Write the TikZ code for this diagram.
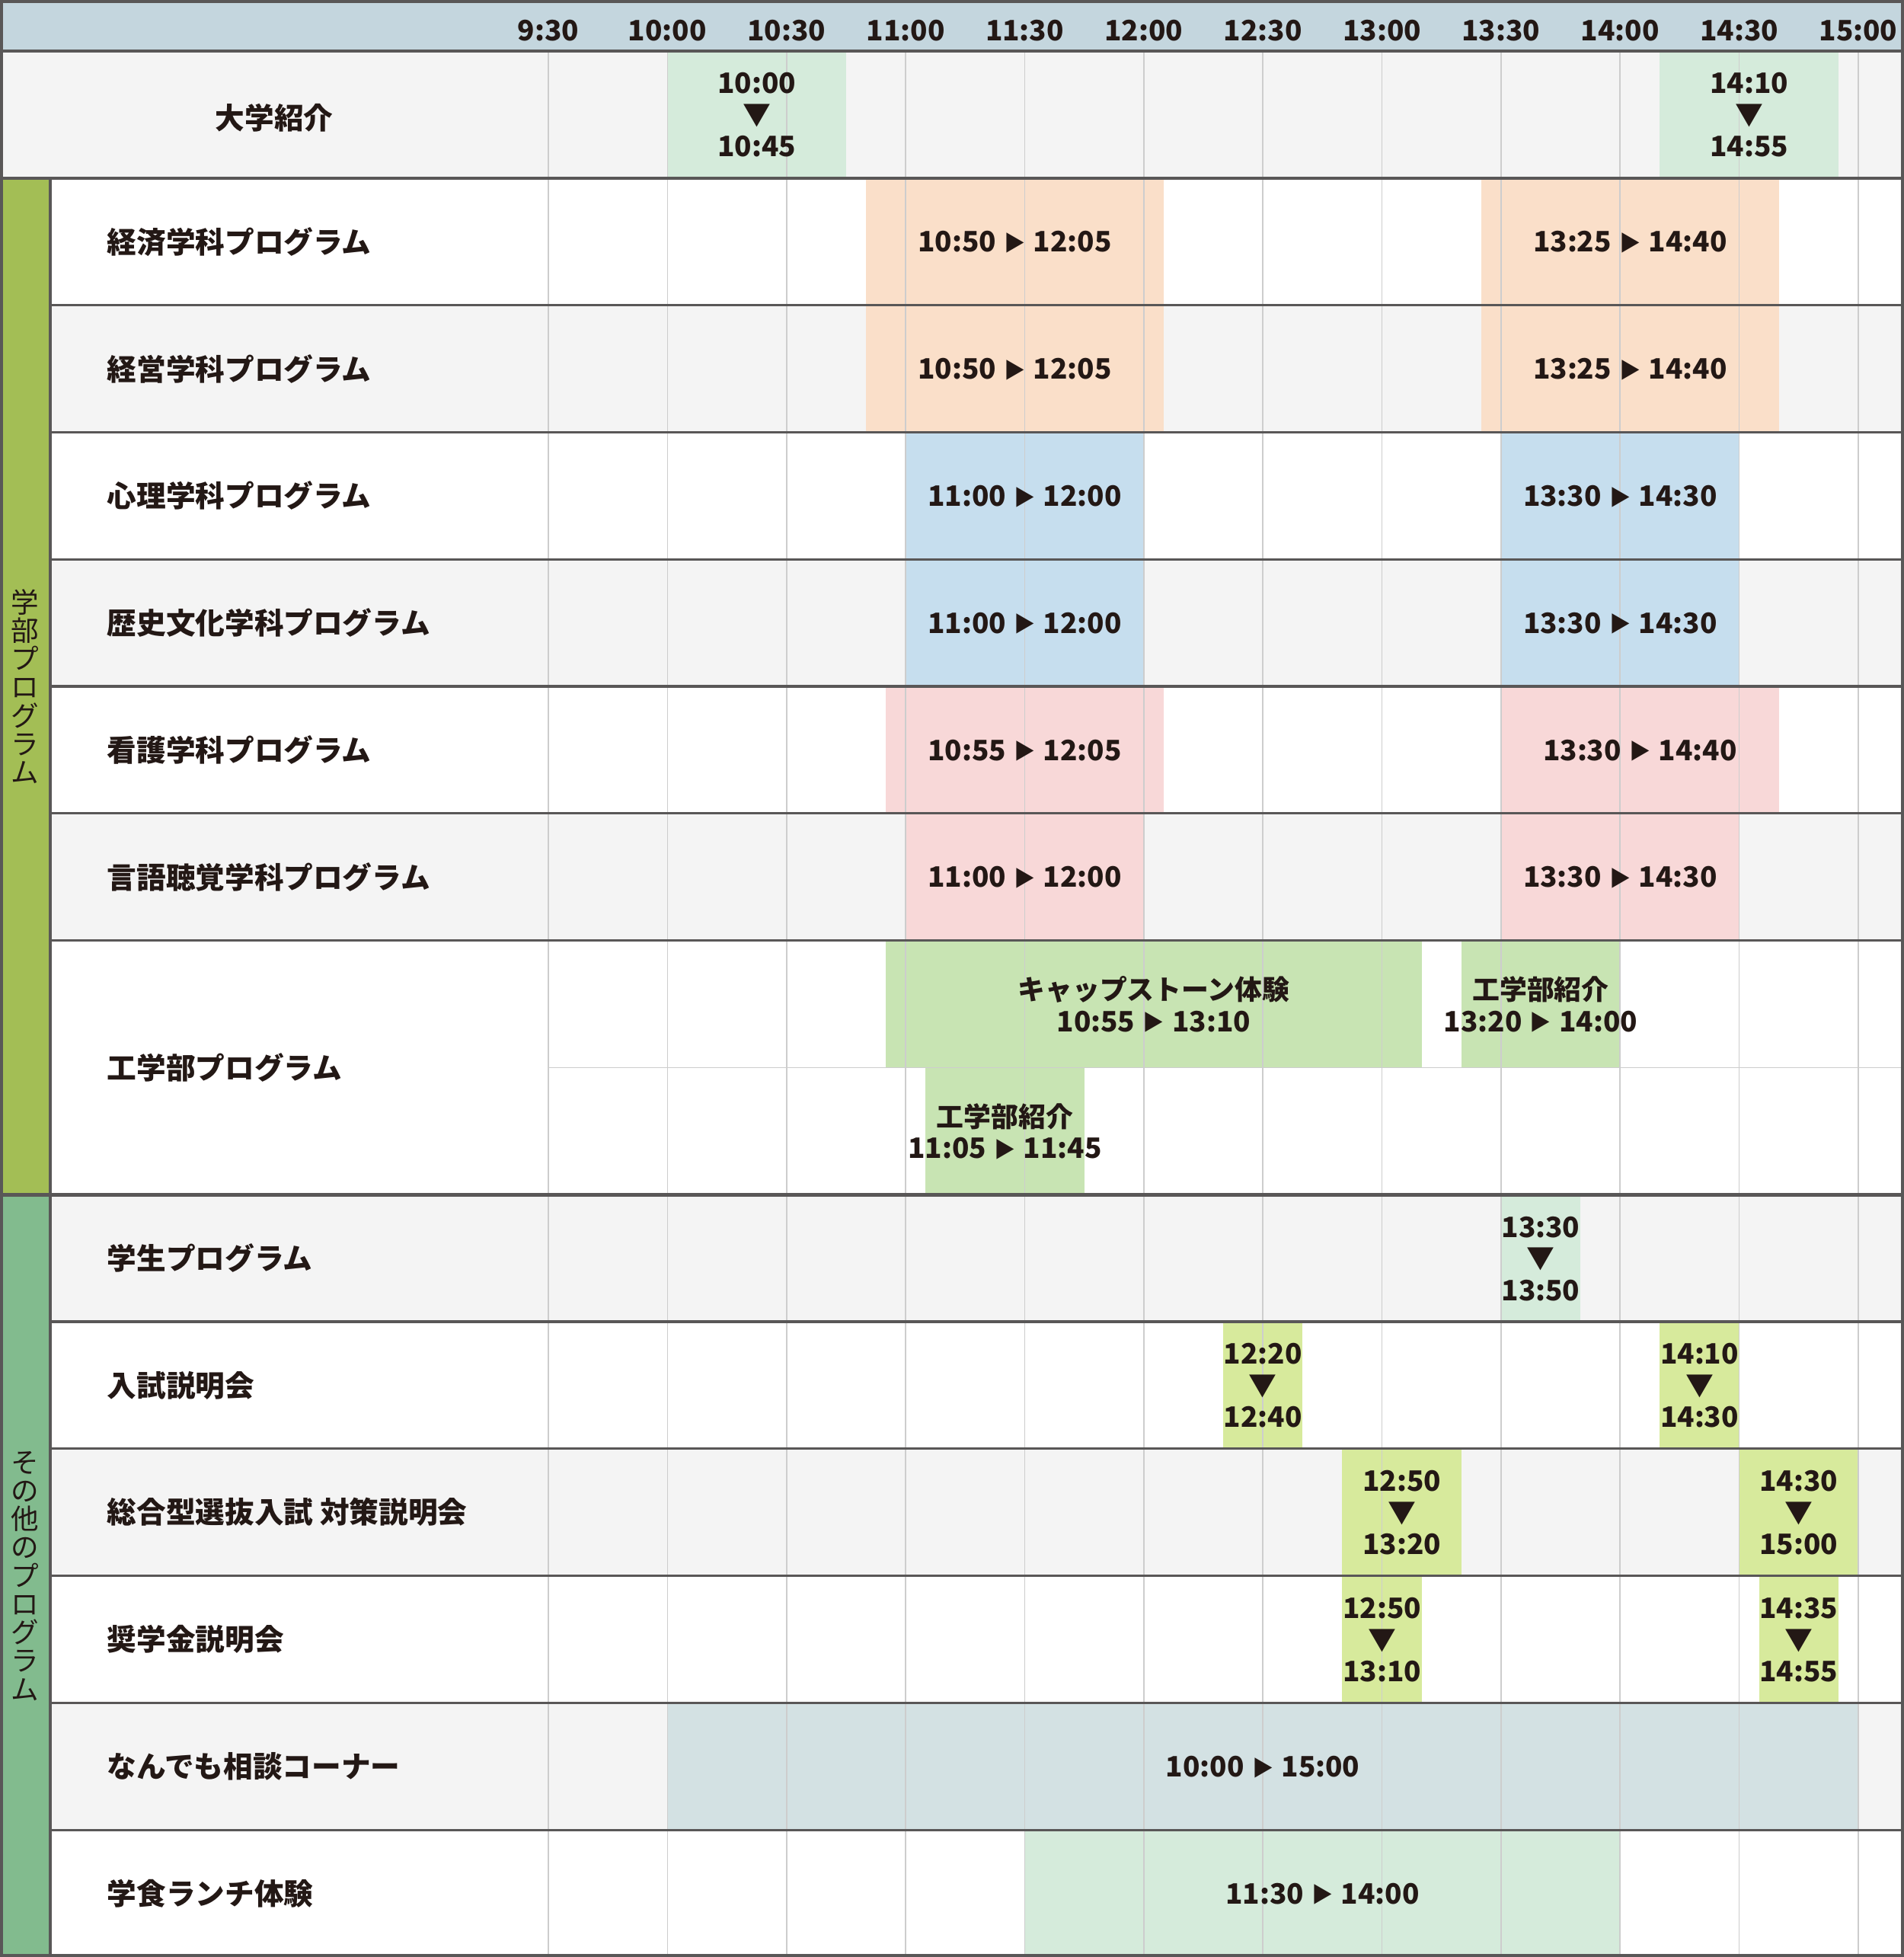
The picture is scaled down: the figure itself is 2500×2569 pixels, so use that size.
\documentclass[tikz,border=0pt]{standalone}
\usepackage{fontspec}
\setmainfont{Noto Sans CJK JP}

\definecolor{ink}{HTML}{231815}
\definecolor{frame}{HTML}{595757}
\definecolor{gridc}{HTML}{CDCDCD}
\definecolor{headbg}{HTML}{C4D6DE}
\definecolor{rowbg}{HTML}{F4F4F4}
\definecolor{sidea}{HTML}{A3BE55}
\definecolor{sideb}{HTML}{82BB8E}
\definecolor{mint}{HTML}{D5EBDB}
\definecolor{peach}{HTML}{FADFC9}
\definecolor{sky}{HTML}{C6DEEE}
\definecolor{rose}{HTML}{F8D8D8}
\definecolor{leaf}{HTML}{C8E4B3}
\definecolor{lime}{HTML}{D7EA9C}
\definecolor{haze}{HTML}{D3E1E3}

% time (h, min) -> x, row index -> y
\newcommand\tm[2]{(720+((#1)*60+(#2)-570)*5.212)}
\newcommand\ry[1]{(67+(#1)*166.8)}
\newcommand\ra{\kern0.28em\raisebox{0.4pt}{\fontsize{8}{8}\selectfont ▶}\kern0.28em}
\newcommand\da{▼}
\newcommand\two[2]{{\fontsize{10.2}{13.2}\selectfont #1}\\#2}

% row/start h/start min/end h/end min/colour/text
\newcommand\slots{0/10/0/10/45/mint/{10:00\\\da\\10:45},
  0/14/10/14/55/mint/{14:10\\\da\\14:55},
  1/10/50/12/5/peach/{10:50\ra 12:05}, 1/13/25/14/40/peach/{13:25\ra 14:40},
  2/10/50/12/5/peach/{10:50\ra 12:05}, 2/13/25/14/40/peach/{13:25\ra 14:40},
  3/11/0/12/0/sky/{11:00\ra 12:00}, 3/13/30/14/30/sky/{13:30\ra 14:30},
  4/11/0/12/0/sky/{11:00\ra 12:00}, 4/13/30/14/30/sky/{13:30\ra 14:30},
  5/10/55/12/5/rose/{10:55\ra 12:05}, 5/13/30/14/40/rose/{13:30\ra 14:40},
  6/11/0/12/0/rose/{11:00\ra 12:00}, 6/13/30/14/30/rose/{13:30\ra 14:30},
  7/10/55/13/10/leaf/{\two{キャップストーン体験}{10:55\ra 13:10}},
  7/13/20/14/0/leaf/{\two{工学部紹介}{13:20\ra 14:00}},
  8/11/5/11/45/leaf/{\two{工学部紹介}{11:05\ra 11:45}},
  9/13/30/13/50/mint/{13:30\\\da\\13:50},
  10/12/20/12/40/lime/{12:20\\\da\\12:40}, 10/14/10/14/30/lime/{14:10\\\da\\14:30},
  11/12/50/13/20/lime/{12:50\\\da\\13:20}, 11/14/30/15/0/lime/{14:30\\\da\\15:00},
  12/12/50/13/10/lime/{12:50\\\da\\13:10}, 12/14/35/14/55/lime/{14:35\\\da\\14:55},
  13/10/0/15/0/haze/{10:00\ra 15:00},
  14/11/30/14/0/mint/{11:30\ra 14:00}}

\begin{document}
\begin{tikzpicture}[x=0.1mm, y=-0.1mm,
  hd/.style = {anchor=base, inner sep=0, text=ink, font=\bfseries\fontsize{10.5}{12}\selectfont},
  lbl/.style = {anchor=west, inner sep=0, text=ink, font=\bfseries\fontsize{11}{13}\selectfont},
  blk/.style = {inner sep=0, align=center, text=ink, font=\bfseries\fontsize{10.5}{11.8}\selectfont},
  side/.style = {inner sep=0, align=center, text=ink, font=\fontsize{10.4}{10.6}\selectfont},
  gline/.style = {gridc, line width=0.45pt},
  rowline/.style = {frame, line width=0.9pt},
  secline/.style = {frame, line width=1.3pt}]
\useasboundingbox (0,0) rectangle (2500,2569);
\fill[white] (0,0) rectangle (2500,2569);

% header and row backgrounds
\fill[headbg] (0,0) rectangle (2500,67);
\foreach \r in {0,2,4,6,9,11,13}
  \fill[rowbg] (0,{\ry{\r}}) rectangle (2500,{\ry{\r+1}});
\fill[sidea] (0,{\ry{1}}) rectangle (66,{\ry{9}});
\fill[sideb] (0,{\ry{9}}) rectangle (66,2569);

% time slots
\foreach \r/\a/\b/\c/\d/\col/\txt in \slots
  \fill[\col] ({\tm{\a}{\b}},{\ry{\r}}) rectangle ({\tm{\c}{\d}},{\ry{\r+1}});

% half-hour grid
\foreach \t [count=\k from 0] in {9:30,10:00,10:30,11:00,11:30,12:00,12:30,13:00,13:30,14:00,14:30,15:00} {
  \draw[gline] ({720+\k*156.36},67) -- ({720+\k*156.36},2569);
  \node[hd] (h\k) at ({720+\k*156.36},53) {\t};
}
\draw[gline] (720,{\ry{8}}) -- (2500,{\ry{8}});

% row lines
\foreach \r in {2,...,7,10,11,...,14}
  \draw[rowline] (66,{\ry{\r}}) -- (2500,{\ry{\r}});
\draw[secline] (0,67) -- (2500,67)
  (0,{\ry{1}}) -- (2500,{\ry{1}})
  (0,{\ry{9}}) -- (2500,{\ry{9}});
\draw[rowline] (66,{\ry{1}}) -- (66,2569);
\draw[frame, line width=1.3pt] (2,2) rectangle (2498,2567);

% labels
\node[blk, font=\bfseries\fontsize{11}{13}\selectfont] (intro) at (360,{\ry{0}+88}) {大学紹介};
\foreach \r/\txt [count=\n] in {1/経済学科プログラム, 2/経営学科プログラム, 3/心理学科プログラム,
    4/歴史文化学科プログラム, 5/看護学科プログラム, 6/言語聴覚学科プログラム, 7.5/工学部プログラム,
    9/学生プログラム, 10/入試説明会, 11/総合型選抜入試 対策説明会, 12/奨学金説明会,
    13/なんでも相談コーナー, 14/学食ランチ体験}
  \node[lbl] (lab\n) at (140,{\ry{\r}+83.4}) {\txt};
\node[side] (side1) at (33,{(\ry{1}+\ry{9})/2}) {学\\部\\プ\\ロ\\グ\\ラ\\ム};
\node[side] (side2) at (33,{(\ry{9}+2569)/2}) {そ\\の\\他\\の\\プ\\ロ\\グ\\ラ\\ム};

% slot times
\foreach \r/\a/\b/\c/\d/\col/\txt [count=\n] in \slots
  \node[blk] (slot\n) at ({(\tm{\a}{\b}+\tm{\c}{\d})/2},{\ry{\r}+84}) {\txt};
\end{tikzpicture}
\end{document}
